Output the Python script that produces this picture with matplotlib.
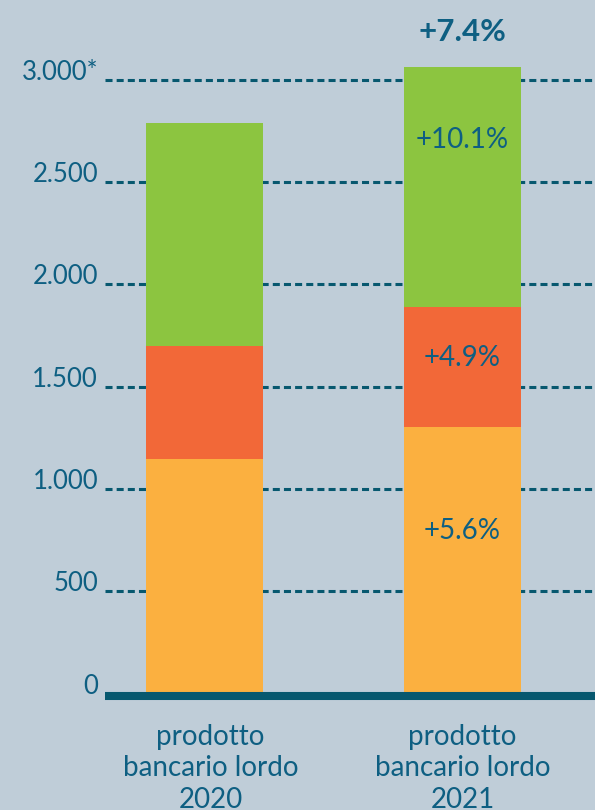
import matplotlib
matplotlib.use('Agg')

import numpy as np
import matplotlib.pyplot as plt
import matplotlib.transforms as mtransforms

# Data
categories = ['prodotto\nbancario lordo\n2020', 'prodotto\nbancario lordo\n2021']
bottom_vals = [1146, 1303]   # orange
middle_vals = [552, 586]     # red
top_vals = [1090, 1173]      # green
seg_labels = ['+5.6%', '+4.9%', '+10.1%']
seg_label_y = [794, 1640, 2705]
total_label = '+7.4%'
total_label_y = 3233
ytick_vals = [0, 500, 1000, 1500, 2000, 2500, 3000]
ytick_labels = ['0', '500', '1.000', '1.500', '2.000', '2.500', '3.000*']

BG = '#bfcdd8'
TXT = '#0e5f82'
LINE = '#07586f'
ORANGE = '#fbb040'
RED = '#f26838'
GREEN = '#8cc540'

plt.rcParams['font.family'] = ['Lato', 'DejaVu Sans']

fig = plt.figure(figsize=(5.95, 8.1), dpi=100)
fig.patch.set_facecolor(BG)
ax = fig.add_axes([105 / 595, 116.5 / 810, 490 / 595, 693.5 / 810])
ax.set_facecolor(BG)

x = np.arange(len(categories))
w = 0.4535
b1 = np.array(bottom_vals)
b2 = b1 + np.array(middle_vals)
ax.bar(x, bottom_vals, width=w, color=ORANGE, zorder=3)
ax.bar(x, middle_vals, width=w, bottom=b1, color=RED, zorder=3)
ax.bar(x, top_vals, width=w, bottom=b2, color=GREEN, zorder=3)

ax.set_xlim(-0.3857, 1.5136)
ax.set_ylim(0, 3390)

# dashed grid lines
for v in ytick_vals[1:]:
    ax.axhline(v, color=LINE, lw=2.2, dashes=(2.3, 1.35), zorder=1)

# thick baseline, sitting a little below zero
base_off = mtransforms.ScaledTranslation(0, -2.5 / 100, fig.dpi_scale_trans)
ax.plot([0, 1], [0, 0], transform=ax.get_yaxis_transform() + base_off,
        color=LINE, lw=5.8, solid_capstyle='butt', clip_on=False, zorder=4)

# y labels
ytrans = ax.get_yaxis_transform()
for v, lab in zip(ytick_vals, ytick_labels):
    ax.text(-0.0143, v, lab, transform=ytrans, ha='right', va='baseline',
            fontsize=18.5, color=TXT)

# segment labels on 2021 bar
for lab, yv in zip(seg_labels, seg_label_y):
    ax.text(1, yv, lab, ha='center', va='center', fontsize=20, color=TXT, zorder=5)
ax.text(1, total_label_y, total_label, ha='center', va='center', fontsize=22.5,
        fontweight='bold', color=TXT)

# category labels
xtrans = ax.get_xaxis_transform()
label_dx = [6, 0]
for xi, lab, dx in zip(x, categories, label_dx):
    tr = xtrans + mtransforms.ScaledTranslation(dx / 100, 0, fig.dpi_scale_trans)
    ax.text(xi, -0.1080, lab, transform=tr, ha='center', va='center',
            fontsize=20, color=TXT, linespacing=1.27, clip_on=False)

ax.set_xticks([])
ax.set_yticks([])
for s in ax.spines.values():
    s.set_visible(False)

plt.savefig('out.png', dpi=100, facecolor=BG)
